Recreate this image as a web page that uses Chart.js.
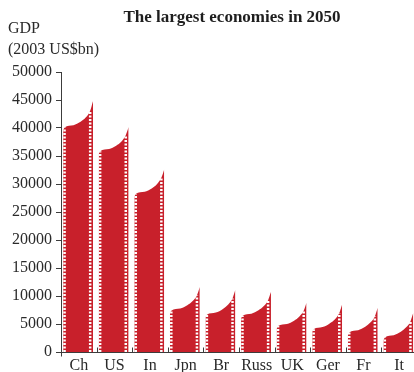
<!DOCTYPE html>
<html>
<head>
<meta charset="utf-8">
<title>The largest economies in 2050</title>
<script src="https://cdn.jsdelivr.net/npm/chart.js@4.4.1/dist/chart.umd.min.js"></script>
<style>
  html, body { margin: 0; padding: 0; background: #fff; overflow: hidden; }
  .wrap { position: relative; width: 414px; height: 372px; font-family: "Liberation Serif", "Times New Roman", serif; color: #2a2a2a; }
  .wrap canvas { position: absolute; left: 0; top: 0; }
  .title { position: absolute; left: 0; width: 464px; top: 8px; text-align: center; font-weight: bold; font-size: 17px; line-height: 17px; color: #1e1e1e; }
  .ylabel { position: absolute; left: 8px; top: 17px; font-size: 16px; line-height: 21px; }
</style>
</head>
<body>
<div class="wrap">
  <canvas id="gdpChart" width="414" height="372"></canvas>
  <div class="title">The largest economies in 2050</div>
  <div class="ylabel">GDP<br>(2003 US$bn)</div>
</div>
<script>
  const countries = ["Ch", "US", "In", "Jpn", "Br", "Russ", "UK", "Ger", "Fr", "It"];

  // where each profile is sampled inside its slot (fraction of slot width)
  const sampleAt = [0.06, 0.10, 0.35, 0.55, 0.70, 0.82, 0.86, 0.90];

  // GDP along each profile, US$bn
  const gdpCh   = [39600, 40100, 40500, 41100, 41900, 43100, 43900, 44800];
  const gdpUS   = [35400, 35850, 36250, 36850, 37600, 38700, 39400, 40200];
  const gdpIn   = [27700, 28200, 28600, 29200, 30000, 31100, 31800, 32600];
  const gdpJpn  = [6900, 7350, 7750, 8350, 9100, 10100, 10800, 11600];
  const gdpBr   = [6200, 6650, 7050, 7700, 8500, 9550, 10300, 11100];
  const gdpRuss = [6000, 6450, 6850, 7450, 8200, 9250, 9950, 10700];
  const gdpUK   = [4200, 4650, 5000, 5600, 6350, 7350, 8050, 8800];
  const gdpGer  = [3600, 4050, 4450, 5100, 5850, 6950, 7700, 8500];
  const gdpFr   = [3000, 3500, 3900, 4500, 5300, 6350, 7100, 7900];
  const gdpIt   = [2100, 2600, 3000, 3600, 4400, 5450, 6200, 7000];

  const yMax = 50000;
  const yStep = 5000;

  const profiles = [gdpCh, gdpUS, gdpIn, gdpJpn, gdpBr, gdpRuss, gdpUK, gdpGer, gdpFr, gdpIt];

  const RED = "#c8202b";
  const AXIS = "#3c3c3c";
  const FONT = "'Liberation Serif', 'Times New Roman', serif";

  // white dotted uprights: one near the left edge, one near the right
  const dots = [];
  profiles.forEach((vals, i) => {
    [1, 5].forEach((k) => {
      dots.push({ x: i + sampleAt[k], y: 0 });
      dots.push({ x: i + sampleAt[k], y: vals[k] });
      dots.push({ x: i + sampleAt[k] + 0.01, y: null });
    });
  });

  const datasets = [
    {
      label: "dots",
      data: dots,
      borderColor: "#ffffff",
      borderWidth: 2.5,
      borderDash: [2, 1.5],
      borderCapStyle: "butt",
      pointRadius: 0,
      fill: false,
      spanGaps: false,
      order: 0,
    },
  ];

  profiles.forEach((vals, i) => {
    datasets.push({
      label: countries[i],
      data: vals.map((v, k) => ({ x: i + sampleAt[k], y: v })),
      borderColor: RED,
      backgroundColor: RED,
      borderWidth: 0,
      pointRadius: 0,
      cubicInterpolationMode: "monotone",
      fill: "origin",
      order: 1,
    });
  });

  // little upward marks on the x axis between countries
  const slotTicks = {
    id: "slotTicks",
    afterDraw(chart) {
      const { ctx, scales: { x, y } } = chart;
      const base = Math.round(y.getPixelForValue(0)) + 0.5;
      ctx.save();
      ctx.strokeStyle = AXIS;
      ctx.lineWidth = 1;
      ctx.beginPath();
      for (let i = 1; i < countries.length; i++) {
        const px = Math.round(x.getPixelForValue(i)) + 0.5;
        ctx.moveTo(px, base);
        ctx.lineTo(px, base - 5);
      }
      const left = Math.round(x.left) + 0.5;
      ctx.moveTo(left, base);
      ctx.lineTo(left, base + 4);
      ctx.stroke();
      ctx.restore();
    },
  };

  new Chart(document.getElementById("gdpChart"), {
    type: "line",
    data: { datasets },
    plugins: [slotTicks],
    options: {
      responsive: false,
      animation: false,
      devicePixelRatio: 1,
      layout: { padding: { top: 72, left: 0, right: 0, bottom: 0 } },
      plugins: {
        legend: { display: false },
        tooltip: { enabled: false },
        title: { display: false },
      },
      scales: {
        x: {
          type: "linear",
          min: 0,
          max: 9.92,
          afterBuildTicks: (scale) => {
            scale.ticks = countries.map((c, i) => ({ value: i + 0.5 }));
          },
          afterFit: (scale) => {
            scale.height = 20;
          },
          ticks: {
            autoSkip: false,
            maxRotation: 0,
            padding: 4,
            color: "#2a2a2a",
            font: { family: FONT, size: 16 },
            callback: (value, index) => countries[index],
          },
          grid: { drawOnChartArea: false, drawTicks: false, color: "rgba(0,0,0,0)" },
          border: { display: true, color: AXIS, width: 1 },
        },
        y: {
          min: 0,
          max: yMax,
          afterFit: (scale) => {
            scale.width = 61;
          },
          ticks: {
            stepSize: yStep,
            padding: 4,
            color: "#2a2a2a",
            font: { family: FONT, size: 16 },
            callback: (value) => String(value),
          },
          grid: { drawOnChartArea: false, drawTicks: true, tickLength: 5, color: AXIS },
          border: { display: true, color: AXIS, width: 1 },
        },
      },
    },
  });
</script>
</body>
</html>
